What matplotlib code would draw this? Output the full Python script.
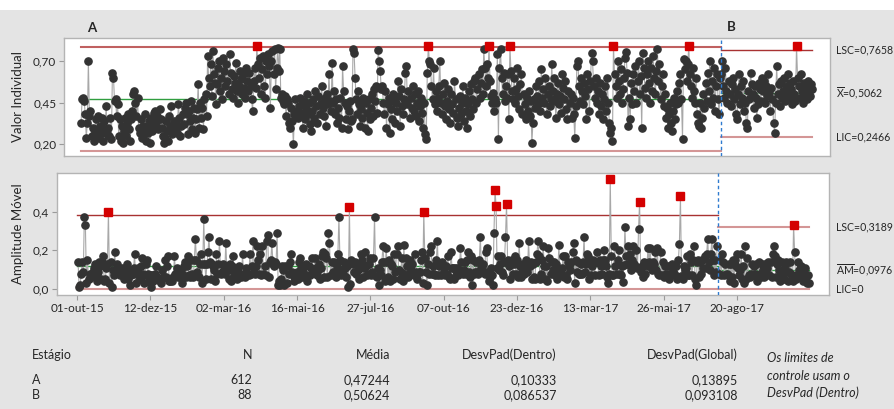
import numpy as np
import matplotlib.pyplot as plt
from matplotlib.patches import Rectangle
import matplotlib.transforms as mtransforms

plt.rcParams['font.family'] = ['Lato', 'DejaVu Sans']
plt.rcParams['mathtext.fontset'] = 'custom'
plt.rcParams['mathtext.rm'] = 'Lato'

# Valores individuais (estimados), estágio A e estágio B
valor_a = [
    0.33, 0.47, 0.48, 0.46, 0.38, 0.24, 0.33, 0.70, 0.37, 0.40,
    0.25, 0.30, 0.22, 0.28, 0.35, 0.26, 0.37, 0.24, 0.31, 0.27,
    0.36, 0.22, 0.34, 0.29, 0.43, 0.26, 0.30, 0.25, 0.36, 0.23,
    0.63, 0.60, 0.46, 0.47, 0.37, 0.44, 0.25, 0.35, 0.22, 0.31,
    0.21, 0.28, 0.36, 0.25, 0.33, 0.38, 0.29, 0.22, 0.35, 0.40,
    0.50, 0.52, 0.45, 0.37, 0.48, 0.30, 0.27, 0.35, 0.24, 0.31,
    0.26, 0.38, 0.22, 0.30, 0.27, 0.34, 0.21, 0.36, 0.28, 0.32,
    0.39, 0.40, 0.33, 0.37, 0.29, 0.41, 0.35, 0.30, 0.25, 0.21,
    0.24, 0.34, 0.28, 0.22, 0.37, 0.31, 0.43, 0.26, 0.30, 0.34,
    0.29, 0.33, 0.27, 0.44, 0.36, 0.25, 0.31, 0.38, 0.32, 0.42,
    0.45, 0.38, 0.26, 0.40, 0.34, 0.46, 0.29, 0.36, 0.42, 0.27,
    0.35, 0.41, 0.56, 0.30, 0.45, 0.36, 0.42, 0.29, 0.47, 0.50,
    0.37, 0.73, 0.60, 0.55, 0.68, 0.49, 0.76, 0.62, 0.57, 0.44,
    0.56, 0.66, 0.70, 0.52, 0.60, 0.47, 0.72, 0.64, 0.55, 0.68,
    0.58, 0.50, 0.74, 0.63, 0.53, 0.48, 0.61, 0.57, 0.69, 0.52,
    0.45, 0.55, 0.64, 0.59, 0.50, 0.62, 0.54, 0.48, 0.66, 0.58,
    0.52, 0.63, 0.55, 0.47, 0.40, 0.58, 0.66, 0.54, 0.79, 0.68,
    0.60, 0.72, 0.50, 0.65, 0.73, 0.55, 0.48, 0.70, 0.62, 0.74,
    0.67, 0.42, 0.70, 0.76, 0.62, 0.77, 0.53, 0.66, 0.78, 0.64,
    0.77, 0.48, 0.50, 0.46, 0.44, 0.49, 0.37, 0.47, 0.45, 0.33,
    0.30, 0.42, 0.34, 0.20, 0.38, 0.47, 0.40, 0.36, 0.43, 0.48,
    0.39, 0.44, 0.30, 0.46, 0.35, 0.41, 0.50, 0.38, 0.45, 0.32,
    0.28, 0.40, 0.47, 0.36, 0.52, 0.43, 0.33, 0.49, 0.38, 0.45,
    0.55, 0.42, 0.37, 0.48, 0.31, 0.50, 0.44, 0.62, 0.46, 0.40,
    0.69, 0.45, 0.52, 0.38, 0.47, 0.33, 0.42, 0.36, 0.48, 0.30,
    0.67, 0.52, 0.45, 0.35, 0.43, 0.29, 0.40, 0.46, 0.34, 0.35,
    0.775, 0.75, 0.60, 0.47, 0.38, 0.52, 0.44, 0.31, 0.41, 0.36,
    0.48, 0.30, 0.45, 0.39, 0.28, 0.47, 0.35, 0.42, 0.50, 0.37,
    0.53, 0.46, 0.55, 0.39, 0.765, 0.70, 0.64, 0.53, 0.55, 0.45,
    0.38, 0.52, 0.30, 0.44, 0.48, 0.27, 0.41, 0.35, 0.50, 0.46,
    0.33, 0.45, 0.40, 0.58, 0.49, 0.31, 0.53, 0.43, 0.38, 0.47,
    0.63, 0.67, 0.44, 0.52, 0.36, 0.48, 0.42, 0.55, 0.40, 0.50,
    0.37, 0.45, 0.52, 0.34, 0.43, 0.48, 0.39, 0.30, 0.45, 0.26,
    0.23, 0.63, 0.79, 0.70, 0.68, 0.55, 0.47, 0.66, 0.44, 0.52,
    0.40, 0.48, 0.55, 0.70, 0.45, 0.38, 0.50, 0.57, 0.43, 0.35,
    0.46, 0.53, 0.41, 0.33, 0.50, 0.44, 0.39, 0.58, 0.47, 0.36,
    0.31, 0.42, 0.49, 0.38, 0.45, 0.55, 0.34, 0.48, 0.40, 0.30,
    0.44, 0.52, 0.37, 0.56, 0.47, 0.41, 0.58, 0.60, 0.45, 0.53,
    0.62, 0.48, 0.57, 0.65, 0.50, 0.77, 0.66, 0.55, 0.68, 0.60,
    0.79, 0.58, 0.49, 0.45, 0.51, 0.40, 0.47, 0.45, 0.74, 0.23,
    0.66, 0.77, 0.60, 0.50, 0.63, 0.46, 0.55, 0.48, 0.62, 0.35,
    0.79, 0.64, 0.52, 0.47, 0.60, 0.45, 0.53, 0.66, 0.49, 0.41,
    0.56, 0.62, 0.38, 0.50, 0.44, 0.35, 0.48, 0.40, 0.52, 0.37,
    0.46, 0.21, 0.33, 0.47, 0.42, 0.55, 0.49, 0.44, 0.58, 0.40,
    0.65, 0.48, 0.53, 0.45, 0.60, 0.38, 0.50, 0.55, 0.43, 0.47,
    0.68, 0.52, 0.60, 0.46, 0.36, 0.50, 0.57, 0.44, 0.49, 0.39,
    0.62, 0.54, 0.47, 0.58, 0.41, 0.35, 0.52, 0.45, 0.50, 0.36,
    0.48, 0.38, 0.24, 0.43, 0.67, 0.70, 0.55, 0.46, 0.60, 0.52,
    0.44, 0.57, 0.49, 0.35, 0.62, 0.53, 0.40, 0.58, 0.75, 0.70,
    0.55, 0.48, 0.60, 0.45, 0.52, 0.38, 0.57, 0.43, 0.50, 0.35,
    0.47, 0.55, 0.40, 0.60, 0.45, 0.33, 0.27, 0.30, 0.22, 0.79,
    0.62, 0.55, 0.48, 0.70, 0.58, 0.50, 0.65, 0.45, 0.53, 0.60,
    0.72, 0.755, 0.63, 0.31, 0.48, 0.35, 0.57, 0.44, 0.62, 0.52,
    0.67, 0.45, 0.58, 0.70, 0.50, 0.61, 0.30, 0.75, 0.66, 0.54,
    0.48, 0.62, 0.70, 0.57, 0.45, 0.66, 0.52, 0.73, 0.60, 0.50,
    0.64, 0.77, 0.58, 0.68, 0.47, 0.55, 0.62, 0.43, 0.50, 0.36,
    0.42, 0.30, 0.38, 0.45, 0.33, 0.28, 0.40, 0.48, 0.35, 0.44,
    0.52, 0.45, 0.57, 0.62, 0.47, 0.235, 0.715, 0.65, 0.70, 0.58,
    0.68, 0.79, 0.62, 0.55, 0.48, 0.66, 0.52, 0.45, 0.60, 0.38,
    0.33, 0.31, 0.45, 0.30, 0.36, 0.50, 0.42, 0.57, 0.46, 0.63,
    0.52, 0.70, 0.44, 0.58, 0.48, 0.66, 0.40, 0.55, 0.62, 0.47,
    0.38, 0.60,
]
valor_b = [
    0.62, 0.70, 0.55, 0.48, 0.66, 0.52, 0.45, 0.58, 0.50, 0.43,
    0.56, 0.60, 0.47, 0.53, 0.38, 0.35, 0.50, 0.62, 0.44, 0.55,
    0.48, 0.58, 0.40, 0.45, 0.33, 0.30, 0.52, 0.47, 0.63, 0.56,
    0.50, 0.42, 0.55, 0.48, 0.36, 0.44, 0.57, 0.53, 0.46, 0.60,
    0.52, 0.58, 0.45, 0.55, 0.49, 0.62, 0.51, 0.40, 0.54, 0.47,
    0.33, 0.27, 0.45, 0.67, 0.50, 0.56, 0.43, 0.58, 0.48, 0.52,
    0.60, 0.46, 0.55, 0.50, 0.62, 0.48, 0.57, 0.53, 0.44, 0.58,
    0.50, 0.46, 0.79, 0.60, 0.55, 0.48, 0.62, 0.52, 0.45, 0.57,
    0.50, 0.54, 0.47, 0.58, 0.52, 0.49, 0.56, 0.53,
]

estagios = ['A', 'B']
n_obs = [612, 88]
medias = [0.47244, 0.50624]
desv_dentro = [0.10333, 0.086537]
desv_global = [0.13895, 0.093108]

# limites de controle por estágio (como no gráfico)
lsc_i = [0.7824, 0.7658]
lic_i = [0.1625, 0.2466]
am_medio = [0.1166, 0.0976]
lsc_am = [0.3808, 0.3189]
lic_am = [0.0, 0.0]

datas = ['01-out-15', '12-dez-15', '02-mar-16', '16-mai-16', '27-jul-16',
         '07-out-16', '23-dez-16', '13-mar-17', '26-mai-17', '20-ago-17']
passo_datas = 70

W, H = 895, 409
BG = '#e4e4e4'
PT = '#333333'
TXT = '#262626'


def virg(v, nd):
    return f'{v:.{nd}f}'.replace('.', ',')


def fx(px):
    return px / W


def fy(py):
    return 1 - py / H


fig = plt.figure(figsize=(W / 100, H / 100), dpi=100)
fig.patch.set_facecolor(BG)
fig.patches.append(Rectangle((0, fy(10)), 1, 10 / H, transform=fig.transFigure,
                             facecolor='white', edgecolor='none', zorder=0))

ax1 = fig.add_axes([fx(64), fy(156), fx(830) - fx(64), fy(38) - fy(156)])
ax2 = fig.add_axes([fx(57), fy(295), fx(829) - fx(57), fy(173) - fy(295)])

series = [np.array(valor_a), np.array(valor_b)]
inicio = [0, len(valor_a)]

for k in range(2):
    vals = series[k]
    s0 = inicio[k]
    idx = np.arange(s0, s0 + len(vals))
    x0 = s0 - 0.5 if k == 1 else 0
    x1 = idx[-1] if k == 1 else idx[-1] + 0.5

    # carta de valores individuais
    ax1.plot(idx, vals, color='#a8a8a8', lw=0.8, zorder=2)
    ok = (vals <= lsc_i[k]) & (vals >= lic_i[k])
    ax1.plot(idx[ok], vals[ok], 'o', ms=5.2, color=PT, mec=PT, zorder=3)
    ax1.plot(idx[~ok], vals[~ok], 's', ms=5.6, color='#d40000', mec='#d40000', zorder=4)
    ax1.plot([x0, x1], [medias[k]] * 2, color='#2f9e3f', lw=1.0, zorder=1)
    cor = '#c06060' if k == 0 else '#a83232'
    ax1.plot([x0, x1], [lsc_i[k]] * 2, color=cor, lw=1.5 if k == 0 else 1.0, zorder=1)
    ax1.plot([x0, x1], [lic_i[k]] * 2, color='#d49696', lw=1.5, zorder=1)

    # carta de amplitude móvel
    mr = np.abs(np.diff(vals))
    idx_mr = idx[1:]
    ax2.plot(idx_mr, mr, color='#a8a8a8', lw=0.8, zorder=2)
    ok = mr <= lsc_am[k]
    ax2.plot(idx_mr[ok], mr[ok], 'o', ms=5.2, color=PT, mec=PT, zorder=3)
    ax2.plot(idx_mr[~ok], mr[~ok], 's', ms=5.6, color='#d40000', mec='#d40000', zorder=4)
    ax2.plot([x0, x1], [am_medio[k]] * 2, color='#2f9e3f', lw=1.0, zorder=1)
    cor = '#a83232' if k == 0 else '#d49696'
    ax2.plot([x0, x1], [lsc_am[k]] * 2, color=cor, lw=1.0 if k == 0 else 1.5, zorder=1)
    ax2.plot([x0, x1], [lic_am[k]] * 2, color='#d49696', lw=1.5, zorder=1)

# linhas de mudança de estágio
for ax in (ax1, ax2):
    ax.axvline(inicio[1] - 0.5, color='#2f7bd0', lw=1.0, ls=(0, (2.5, 2)), zorder=5)

ax1.set_xlim(-16.3, 716)
ax1.set_ylim(0.130, 0.838)
ax2.set_xlim(-19.1, 717.8)
ax2.set_ylim(-0.031, 0.600)

ax1.set_xticks([])
ax1.set_yticks([0.20, 0.45, 0.70])
ax1.set_yticklabels([virg(v, 2) for v in [0.20, 0.45, 0.70]])
ax2.set_yticks([0.0, 0.2, 0.4])
ax2.set_yticklabels([virg(v, 1) for v in [0.0, 0.2, 0.4]])
pos = np.arange(len(datas)) * passo_datas
ax2.set_xticks(pos)
ax2.set_xticklabels(datas)

for ax in (ax1, ax2):
    ax.set_facecolor('white')
    for sp in ax.spines.values():
        sp.set_color('#b4b4b4')
        sp.set_linewidth(1.0)
    ax.tick_params(length=3.5, width=0.8, color='#9a9a9a', labelsize=8.5,
                   labelcolor=TXT, pad=2)

fig.text(fx(18), fy(97), 'Valor Individual', rotation=90, ha='center', va='center',
         fontsize=9.5, color=TXT)
fig.text(fx(18), fy(234), 'Amplitude Móvel', rotation=90, ha='center', va='center',
         fontsize=9.5, color=TXT)
fig.text(fx(92), fy(28), 'A', ha='center', va='center', fontsize=9.5,
         fontweight='bold', color=TXT)
fig.text(fx(731), fy(27), 'B', ha='center', va='center', fontsize=9.5,
         fontweight='bold', color=TXT)

# rótulos dos limites do último estágio
fs_r = 7.6
t1 = mtransforms.blended_transform_factory(ax1.transAxes, ax1.transData)
xr1 = (836 - 64) / (830 - 64)
ax1.text(xr1, lsc_i[1], 'LSC=' + virg(lsc_i[1], 4), transform=t1,
         va='center', ha='left', fontsize=fs_r, color=TXT)
ax1.text(xr1, medias[1], r'$\overline{\mathrm{X}}$=' + virg(medias[1], 4), transform=t1,
         va='center', ha='left', fontsize=fs_r, color=TXT)
ax1.text(xr1, lic_i[1], 'LIC=' + virg(lic_i[1], 4), transform=t1,
         va='center', ha='left', fontsize=fs_r, color=TXT)

t2 = mtransforms.blended_transform_factory(ax2.transAxes, ax2.transData)
xr2 = (836 - 57) / (829 - 57)
ax2.text(xr2, lsc_am[1], 'LSC=' + virg(lsc_am[1], 4), transform=t2,
         va='center', ha='left', fontsize=fs_r, color=TXT)
ax2.text(xr2, am_medio[1], r'$\overline{\mathrm{AM}}$=' + virg(am_medio[1], 4), transform=t2,
         va='center', ha='left', fontsize=fs_r, color=TXT)
ax2.text(xr2, lic_am[1], 'LIC=0', transform=t2,
         va='center', ha='left', fontsize=fs_r, color=TXT)

# tabela de resumo
cols_x = [32, 252, 390, 557, 738]
cab = ['Estágio', 'N', 'Média', 'DesvPad(Dentro)', 'DesvPad(Global)']
for j, c in enumerate(cab):
    fig.text(fx(cols_x[j]), fy(355), c, ha='left' if j == 0 else 'right',
             va='center', fontsize=9, color=TXT)
linhas_y = [380, 395]
for k in range(2):
    valores = [estagios[k], str(n_obs[k]), virg(medias[k], 5),
               f'{desv_dentro[k]:.6g}'.replace('.', ','),
               f'{desv_global[k]:.6g}'.replace('.', ',')]
    for j, v in enumerate(valores):
        fig.text(fx(cols_x[j]), fy(linhas_y[k]), v, ha='left' if j == 0 else 'right',
                 va='center', fontsize=9, color=TXT)

nota = ['Os limites de', 'controle usam o', 'DesvPad (Dentro)']
for k, t in enumerate(nota):
    fig.text(fx(767), fy(358 + 17.5 * k), t, ha='left', va='center', fontsize=9,
             style='italic', color=TXT)

fig.savefig('out.png', dpi=100, facecolor=fig.get_facecolor())
